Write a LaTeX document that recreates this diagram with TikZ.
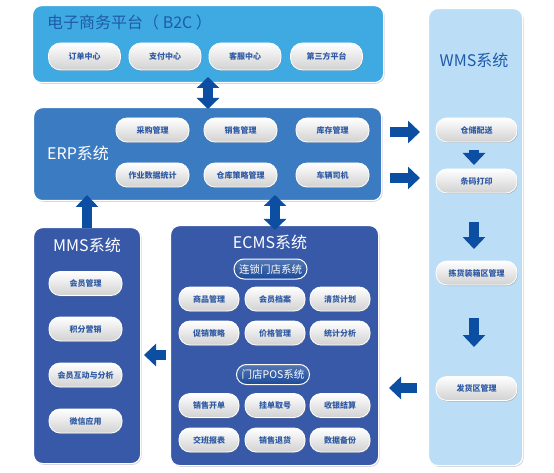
\documentclass[tikz,border=0pt]{standalone}
\usepackage{fontspec}
\setmainfont{Noto Sans CJK SC}
\usetikzlibrary{arrows.meta,shadows}
\definecolor{b2cblue}{HTML}{3FAAE2}
\definecolor{erpblue}{HTML}{3A7BC1}
\definecolor{mmsblue}{HTML}{3859A8}
\definecolor{wmsblue}{HTML}{BCDDF6}
\definecolor{arrowblue}{HTML}{0B4EA2}
\definecolor{textblue}{HTML}{2F5AA3}
\definecolor{titleblue}{HTML}{1E5BAA}
\definecolor{subdark}{HTML}{1B4A9A}
\tikzset{
  panel/.style={draw=white, line width=1.2pt, rounded corners=9pt, anchor=north west, inner sep=0pt,
    drop shadow={shadow xshift=1pt,shadow yshift=-1.2pt,opacity=.35}},
  pill/.style={draw=white, line width=0.8pt, rounded corners=11pt, top color=white, bottom color=black!18,
    minimum height=24pt, inner sep=0pt, text=textblue, font=\bfseries\fontsize{8}{9}\selectfont,
    drop shadow={shadow xshift=0.8pt,shadow yshift=-1pt,opacity=.4}},
  subpill/.style={draw=white, line width=1pt, rounded corners=10pt, top color=subdark!75, bottom color=subdark,
    minimum width=73pt, minimum height=20pt, inner sep=0pt, text=white, font=\fontsize{10.5}{12}\selectfont},
  bigarrow/.style={draw=arrowblue, line width=10pt, -{Triangle[width=22pt,length=12pt]}},
  dblarrow/.style={draw=arrowblue, line width=10pt, {Triangle[width=22pt,length=11pt]}-{Triangle[width=22pt,length=11pt]}},
  title/.style={font=\fontsize{16}{18}\selectfont, inner sep=0pt}
}
\begin{document}
\begin{tikzpicture}[x=1pt,y=-1pt]
\useasboundingbox (0,0) rectangle (554,473);
% panels
\node[panel, fill=b2cblue, minimum width=351pt, minimum height=77pt] (b2c) at (32,5) {};
\node[panel, fill=erpblue, minimum width=348pt, minimum height=93pt] (erp) at (33,107) {};
\node[panel, fill=mmsblue, minimum width=107pt, minimum height=236pt] (mms) at (33,227) {};
\node[panel, fill=mmsblue, minimum width=208pt, minimum height=240pt] (ecms) at (170,225) {};
\node[panel, fill=wmsblue, minimum width=94pt, minimum height=457pt] (wms) at (428,8) {};
% titles
\node[title, anchor=west, text=titleblue] (b2ct) at (47,22) {电子商务平台（ B2C ）};
\node[title, anchor=west, text=white] (erpt) at (47,153) {ERP系统};
\node[title, text=white] (mmst) at (87,245) {MMS系统};
\node[title, text=white] (ecmst) at (270,242) {ECMS系统};
\node[title, text=titleblue] (wmst) at (474,60) {WMS系统};
% B2C pills
\foreach \t/\x/\n in {订单中心/84.5/p1, 支付中心/165/p2, 客服中心/245/p3, 第三方平台/326.5/p4}
  \node[pill, minimum width=72pt, minimum height=27pt, rounded corners=12pt] (b2c\n) at (\x,56.5) {\t};
% ERP pills
\foreach \t/\x/\y/\n in {采购管理/152.5/130/a, 销售管理/240.5/130/b, 库存管理/332.5/130/c,
  作业数据统计/152.5/175/d, 仓库策略管理/240.5/175/e, 车辆司机/332.5/175/f}
  \node[pill, minimum width=73pt] (erp\n) at (\x,\y) {\t};
% MMS pills
\foreach \t/\y/\n in {会员管理/283.5/a, 积分营销/329/b, 会员互动与分析/375/c, 微信应用/421/d}
  \node[pill, minimum width=73pt] (mms\n) at (85.5,\y) {\t};
% ECMS
\node[subpill] (chain) at (270.5,269) {连锁门店系统};
\node[subpill] (pos) at (273,374.5) {门店POS系统};
\foreach \t/\x/\y/\n in {商品管理/209/299/a, 会员档案/275/299/b, 清货计划/340/299/c,
  促销策略/209/333/d, 价格管理/275/333/e, 统计分析/340/333/f,
  销售开单/209/405.5/g, 挂单取号/275/405.5/h, 收银结算/340/405.5/i,
  交班报表/209/440/j, 销售退货/275/440/k, 数据备份/340/440/l}
  \node[pill, minimum width=60pt] (ecms\n) at (\x,\y) {\t};
% WMS pills
\foreach \t/\y/\n in {仓储配送/130/a, 条码打印/181/b, 拣货装箱区管理/273/c, 发货区管理/388.5/d}
  \node[pill, minimum width=81pt] (wms\n) at (476.5,\y) {\t};
% arrow end points
\coordinate (c1) at (208,77); \coordinate (c2) at (208,109);
\coordinate (c3) at (87,228); \coordinate (c4) at (87,195);
\coordinate (c5) at (275,195); \coordinate (c6) at (275,230);
\coordinate (c7) at (390,132); \coordinate (c8) at (420,132);
\coordinate (c9) at (390,178); \coordinate (c10) at (420,178);
\coordinate (c11) at (474,150); \coordinate (c12) at (474,165);
\coordinate (c13) at (474,222); \coordinate (c14) at (474,249);
\coordinate (c15) at (474,318); \coordinate (c16) at (474,347);
\coordinate (c17) at (417,388); \coordinate (c18) at (389,388);
\coordinate (c19) at (166,355); \coordinate (c20) at (144,355);
% arrows
\draw[dblarrow] (c1) -- (c2);
\draw[bigarrow] (c3) -- (c4);
\draw[dblarrow] (c5) -- (c6);
\draw[bigarrow] (c7) -- (c8);
\draw[bigarrow] (c9) -- (c10);
\draw[bigarrow] (c11) -- (c12);
\draw[bigarrow] (c13) -- (c14);
\draw[bigarrow] (c15) -- (c16);
\draw[bigarrow] (c17) -- (c18);
\draw[bigarrow] (c19) -- (c20);
\end{tikzpicture}
\end{document}
